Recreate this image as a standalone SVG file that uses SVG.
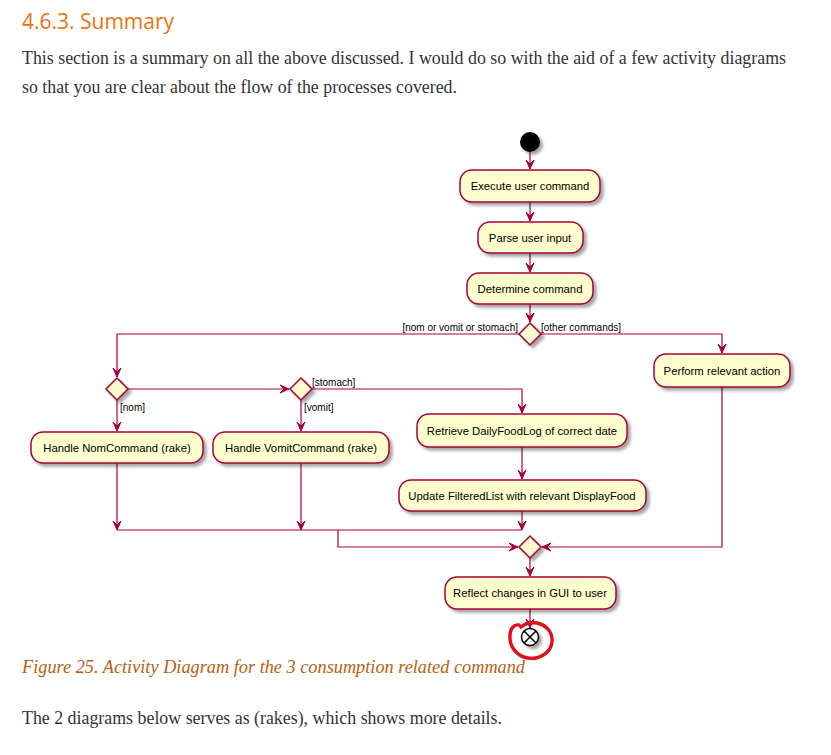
<svg xmlns="http://www.w3.org/2000/svg" width="831" height="755" viewBox="0 0 831 755">
<defs>
<style>
.bg{fill:#ffffff}
.h{font-family:"Open Sans","Noto Sans","Liberation Sans",sans-serif;font-size:21px;fill:#e8740c}
.p{font-family:"Liberation Serif",serif;font-size:17.9px;fill:#333333}
.cap{font-family:"Liberation Serif",serif;font-style:italic;font-size:18.2px;fill:#ba5e10}
.box{fill:#FEFECE;stroke:#A80036;stroke-width:1.5}
.t{font-family:"Liberation Sans",Arial,sans-serif;font-size:11.3px;fill:#000000;text-anchor:middle}
.lbl{font-family:"Liberation Sans",Arial,sans-serif;font-size:10px;fill:#000000}
.c{fill:none;stroke:#A80036;stroke-width:1.2}
.sh{filter:url(#shadow)}
</style>
<filter id="shadow" x="-20%" y="-20%" width="150%" height="160%">
<feGaussianBlur in="SourceAlpha" stdDeviation="1.5"/>
<feOffset dx="3" dy="3" result="b"/>
<feComponentTransfer><feFuncA type="linear" slope="0.35"/></feComponentTransfer>
<feMerge><feMergeNode/><feMergeNode in="SourceGraphic"/></feMerge>
</filter>
<marker id="arr" markerWidth="10" markerHeight="10" refX="9" refY="5" orient="auto" markerUnits="userSpaceOnUse">
<path d="M0,1 L9,5 L0,9 L4,5 Z" fill="#A80036" stroke="#A80036" stroke-width="1"/>
</marker>
</defs>
<rect class="bg" x="0" y="0" width="831" height="755"/>
<text class="h" x="22" y="29">4.6.3. Summary</text>
<text class="p" x="22" y="64" textLength="764" lengthAdjust="spacingAndGlyphs">This section is a summary on all the above discussed. I would do so with the aid of a few activity diagrams</text>
<text class="p" x="22" y="93" textLength="435" lengthAdjust="spacingAndGlyphs">so that you are clear about the flow of the processes covered.</text>

<g id="connectors">
<path class="c" d="M530,152 L530,169" marker-end="url(#arr)"/>
<path class="c" d="M530,202 L530,221" marker-end="url(#arr)"/>
<path class="c" d="M530,253 L530,272" marker-end="url(#arr)"/>
<path class="c" d="M530,304 L530,322" marker-end="url(#arr)"/>
<path class="c" d="M519,334 L117,334 L117,377" marker-end="url(#arr)"/>
<path class="c" d="M541,334 L722,334 L722,353" marker-end="url(#arr)"/>
<path class="c" d="M128,389 L289,389" marker-end="url(#arr)"/>
<path class="c" d="M117,400 L117,431" marker-end="url(#arr)"/>
<path class="c" d="M301,400 L301,431" marker-end="url(#arr)"/>
<path class="c" d="M312,389 L522,389 L522,413" marker-end="url(#arr)"/>
<path class="c" d="M522,447 L522,479" marker-end="url(#arr)"/>
<path class="c" d="M117,463 L117,530" marker-end="url(#arr)"/>
<path class="c" d="M301,463 L301,530" marker-end="url(#arr)"/>
<path class="c" d="M522,511 L522,530" marker-end="url(#arr)"/>
<path class="c" d="M117,530 L522,530"/>
<path class="c" d="M338,530 L338,547 L518,547" marker-end="url(#arr)"/>
<path class="c" d="M722,387 L722,547 L542,547" marker-end="url(#arr)"/>
<path class="c" d="M530,558 L530,576" marker-end="url(#arr)"/>
<path class="c" d="M530,609 L530,628" marker-end="url(#arr)"/>
<text class="lbl" x="518" y="331" text-anchor="end">[nom or vomit or stomach]</text>
<text class="lbl" x="541" y="331">[other commands]</text>
<text class="lbl" x="312" y="386">[stomach]</text>
<text class="lbl" x="120" y="411">[nom]</text>
<text class="lbl" x="304" y="411">[vomit]</text>
</g>

<g id="start"><circle class="sh" cx="530" cy="142" r="10" fill="#000000"/></g>
<g id="execute"><rect class="box sh" x="460" y="170" width="140" height="32" rx="12"/><text class="t" x="530" y="190">Execute user command</text></g>
<g id="parse"><rect class="box sh" x="478" y="222" width="105" height="31" rx="12"/><text class="t" x="530" y="241.5">Parse user input</text></g>
<g id="determine"><rect class="box sh" x="467" y="273" width="126" height="31" rx="12"/><text class="t" x="530" y="292.5">Determine command</text></g>
<g id="d-main"><path class="box sh" d="M530,323 L541,334 L530,345 L519,334 Z"/></g>
<g id="d-nom"><path class="box sh" d="M117,378 L128,389 L117,400 L106,389 Z"/></g>
<g id="d-vomit"><path class="box sh" d="M301,378 L312,389 L301,400 L290,389 Z"/></g>
<g id="perform"><rect class="box sh" x="654" y="354" width="136" height="33" rx="12"/><text class="t" x="722" y="374.5">Perform relevant action</text></g>
<g id="nom"><rect class="box sh" x="31" y="432" width="172" height="31" rx="12"/><text class="t" x="117" y="451.5">Handle NomCommand (rake)</text></g>
<g id="vomit"><rect class="box sh" x="213" y="432" width="176" height="31" rx="12"/><text class="t" x="301" y="451.5">Handle VomitCommand (rake)</text></g>
<g id="retrieve"><rect class="box sh" x="417" y="414" width="210" height="33" rx="12"/><text class="t" x="522" y="434.5">Retrieve DailyFoodLog of correct date</text></g>
<g id="update"><rect class="box sh" x="399" y="480" width="247" height="31" rx="12"/><text class="t" x="522" y="499.5">Update FilteredList with relevant DisplayFood</text></g>
<g id="d-merge"><path class="box sh" d="M530,536 L541,547 L530,558 L519,547 Z"/></g>
<g id="reflect"><rect class="box sh" x="445" y="577" width="171" height="32" rx="12"/><text class="t" x="530" y="597">Reflect changes in GUI to user</text></g>
<g id="end">
<circle class="sh" cx="530" cy="637" r="8.5" fill="#ffffff" stroke="#000000" stroke-width="1.5"/>
<path d="M524,631 L536,643 M536,631 L524,643" stroke="#000000" stroke-width="1.5"/>
</g>
<g id="annotation">
<path d="M519,625 C514,624 510,629 510,635 C509,646 516,656 528,658 C540,660 551,652 552,642 C553,632 546,625 537,623 C530,622 524,624 521,627" fill="none" stroke="#e0101a" stroke-width="3.4" stroke-linecap="round"/>
</g>

<text class="cap" x="22" y="673" textLength="503" lengthAdjust="spacingAndGlyphs">Figure 25. Activity Diagram for the 3 consumption related command</text>
<text class="p" x="22" y="724" textLength="480" lengthAdjust="spacingAndGlyphs">The 2 diagrams below serves as (rakes), which shows more details.</text>
</svg>
